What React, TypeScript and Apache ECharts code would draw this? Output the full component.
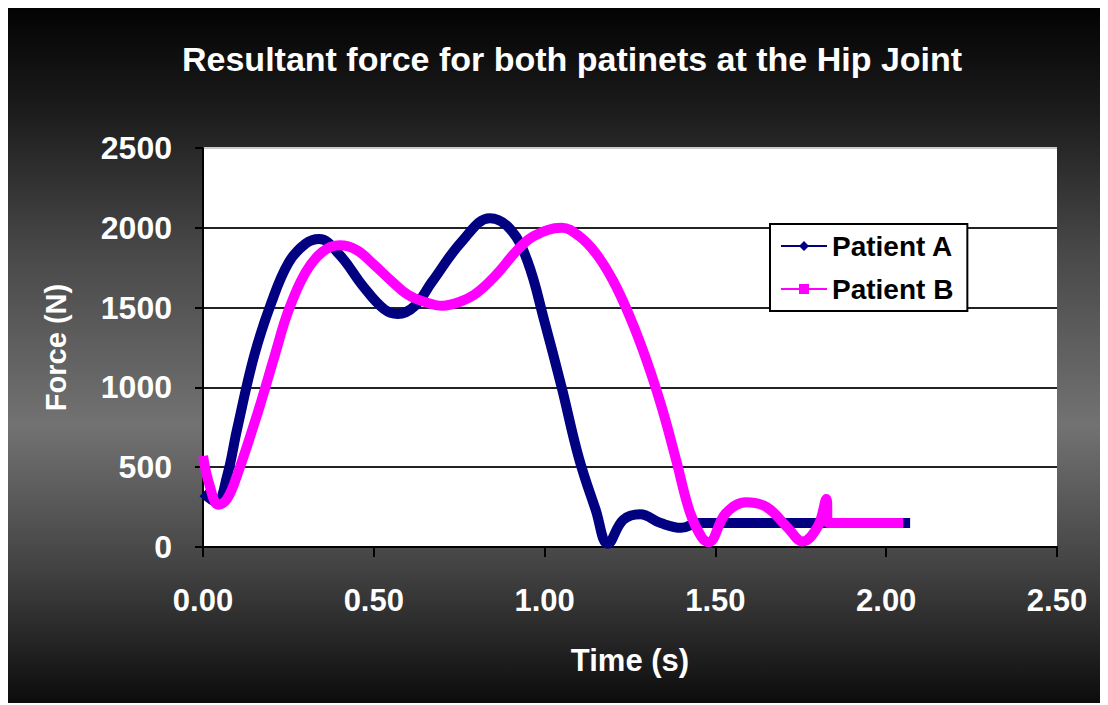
import React, { useEffect, useRef } from "react";
import * as echarts from "echarts";

const chartTitle = "Resultant force for both patinets at the Hip Joint";
const xAxisName = "Time (s)";
const yAxisName = "Force (N)";
const seriesNames = ["Patient A", "Patient B"];

const timeA = [0, 0.04, 0.07, 0.1, 0.15, 0.2, 0.25, 0.3, 0.34, 0.4, 0.47, 0.53, 0.57, 0.62, 0.67, 0.76, 0.84, 0.9, 0.95, 1.0, 1.05, 1.1, 1.15, 1.185, 1.23, 1.28, 1.34, 1.4, 1.45, 1.55, 1.65, 1.75, 1.85, 1.95, 2.07];
const forceA = [340, 280, 440, 740, 1200, 1530, 1780, 1900, 1930, 1830, 1630, 1490, 1460, 1510, 1660, 1920, 2060, 1990, 1790, 1410, 1000, 560, 230, 20, 170, 205, 150, 120, 150, 150, 150, 150, 150, 150, 150];

const timeB = [0, 0.02, 0.045, 0.07, 0.1, 0.16, 0.21, 0.25, 0.3, 0.35, 0.4, 0.45, 0.5, 0.55, 0.6, 0.65, 0.7, 0.75, 0.8, 0.86, 0.92, 0.97, 1.05, 1.1, 1.15, 1.2, 1.25, 1.3, 1.345, 1.385, 1.425, 1.46, 1.48, 1.53, 1.59, 1.65, 1.71, 1.755, 1.8, 1.825, 1.83, 1.9, 2.05];
const forceB = [570, 380, 265, 300, 450, 840, 1200, 1480, 1720, 1850, 1890, 1860, 1770, 1670, 1580, 1535, 1512, 1535, 1590, 1710, 1860, 1950, 2000, 1950, 1840, 1670, 1440, 1160, 860, 545, 220, 60, 30, 210, 280, 250, 125, 35, 130, 300, 150, 150, 150];

const xTickMin = 0;
const xTickMax = 2.5;
const xTickStep = 0.5;
const yTickMin = 0;
const yTickMax = 2500;
const yTickStep = 500;

export default function App() {
  const ref = useRef<HTMLDivElement>(null);
  useEffect(() => {
    if (!ref.current) return;
    const chart = echarts.init(ref.current, undefined, { renderer: "svg" });
    const font = "'Liberation Sans', Arial, sans-serif";
    const dataA = timeA.map((t, i) => [t, forceA[i]]);
    const dataB = timeB.map((t, i) => [t, forceB[i]]);
    chart.setOption({
      animation: false,
      backgroundColor: {
        type: "linear",
        x: 0,
        y: 0,
        x2: 0,
        y2: 1,
        colorStops: [
          { offset: 0, color: "#030303" },
          { offset: 0.15, color: "#1c1c1c" },
          { offset: 0.35, color: "#484848" },
          { offset: 0.6, color: "#727272" },
          { offset: 0.8, color: "#444444" },
          { offset: 1, color: "#0c0c0c" },
        ],
      },
      title: {
        text: chartTitle,
        left: 169,
        top: 29,
        textStyle: { color: "#ffffff", fontFamily: font, fontWeight: "bold", fontSize: 34 },
      },
      legend: {
        orient: "vertical",
        left: 762,
        top: 216,
        backgroundColor: "#ffffff",
        borderColor: "#000000",
        borderWidth: 2,
        borderRadius: 0,
        padding: [7, 14, 7, 11],
        itemWidth: 46,
        itemHeight: 10,
        itemGap: 13,
        itemTextGap: 12,
        textStyle: { color: "#000000", fontFamily: font, fontWeight: "bold", fontSize: 28, lineHeight: 30 },
        data: [
          { name: seriesNames[0], icon: "path://M0,4h46v2h-46z M23,0L28,5L23,10L18,5Z" },
          { name: seriesNames[1], icon: "path://M0,4h46v2h-46z M18,0h10v10h-10z" },
        ],
      },
      grid: { left: 195, right: 51, top: 140, bottom: 156, show: true, backgroundColor: "#ffffff", borderWidth: 0 },
      xAxis: {
        type: "value",
        min: xTickMin,
        max: xTickMax,
        interval: xTickStep,
        name: xAxisName,
        nameLocation: "middle",
        nameGap: 98,
        nameTextStyle: { color: "#ffffff", fontFamily: font, fontWeight: "bold", fontSize: 31 },
        axisLine: { lineStyle: { color: "#000000", width: 2 } },
        axisTick: { show: true, length: 10, lineStyle: { color: "#000000", width: 2 } },
        axisLabel: { color: "#ffffff", fontFamily: font, fontWeight: "bold", fontSize: 31, margin: 38, formatter: (v: number) => v.toFixed(2) },
        splitLine: { show: false },
      },
      yAxis: {
        type: "value",
        min: yTickMin,
        max: yTickMax,
        interval: yTickStep,
        name: yAxisName,
        nameLocation: "middle",
        nameGap: 133,
        nameRotate: 90,
        nameTextStyle: { color: "#ffffff", fontFamily: font, fontWeight: "bold", fontSize: 29 },
        axisLine: { show: true, lineStyle: { color: "#000000", width: 2 } },
        axisTick: { show: true, length: 8, lineStyle: { color: "#000000", width: 2 } },
        axisLabel: { color: "#ffffff", fontFamily: font, fontWeight: "bold", fontSize: 32, margin: 31, formatter: (v: number) => String(v) },
        splitLine: { show: true, lineStyle: { color: ["#222", "#222", "#222", "#222", "#222", "#cccccc"], width: 2 } },
      },
      series: [
        {
          name: seriesNames[0],
          type: "line",
          data: dataA,
          smooth: 0.4,
          showSymbol: false,
          color: "#000080",
          lineStyle: { color: "#000080", width: 10 },
          z: 2,
        },
        {
          name: seriesNames[1],
          type: "line",
          data: dataB,
          smooth: 0.4,
          showSymbol: false,
          color: "#ff00ff",
          lineStyle: { color: "#ff00ff", width: 10 },
          z: 3,
        },
      ],
    });
    return () => chart.dispose();
  }, []);
  return <div ref={ref} style={{ width: 1100, height: 695 }} />;
}
